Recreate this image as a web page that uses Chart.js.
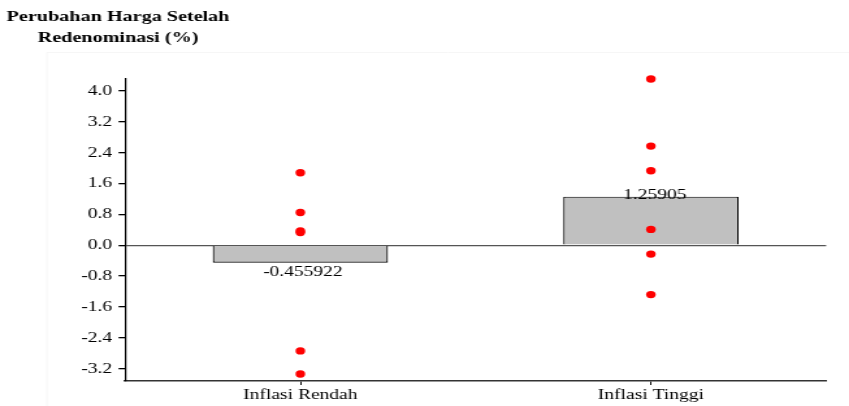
<!DOCTYPE html>
<html>
<head>
<meta charset="utf-8">
<script src="https://cdn.jsdelivr.net/npm/chart.js@4/dist/chart.umd.min.js"></script>
<style>
  html, body { margin: 0; padding: 0; background: #fff; overflow: hidden; }
  /* the reference is horizontally stretched, so draw narrow and scale it out */
  #wrap { width: 653px; height: 406px; transform: scaleX(1.3002); transform-origin: 0 0; position: relative; }
</style>
</head>
<body>
<div id="wrap"><canvas id="chart"></canvas></div>
<script>
const categories = ['Inflasi Rendah', 'Inflasi Tinggi'];
const meanValues = [-0.455922, 1.25905];
const rendahValues = [1.88, 0.85, 0.37, 0.33, -2.74, -3.34];
const tinggiValues = [4.31, 2.57, 1.93, 0.41, -0.23, -1.28];
const yTicks = [-3.2, -2.4, -1.6, -0.8, 0, 0.8, 1.6, 2.4, 3.2, 4.0];
const titleLines = ['Perubahan Harga Setelah', 'Redenominasi (%)'];

const serif = '"Liberation Serif", "Times New Roman", serif';

const points = [];
rendahValues.forEach(v => points.push({ x: categories[0], y: v }));
tinggiValues.forEach(v => points.push({ x: categories[1], y: v }));

// title + faint outer box
const titlePlugin = {
  id: 'titleText',
  beforeDraw(chart) {
    const c = chart.ctx;
    c.save();
    c.strokeStyle = '#f6f6f6';
    c.lineWidth = 1;
    c.beginPath();
    c.moveTo(36, chart.height);
    c.lineTo(36, 52.5);
    c.lineTo(chart.width, 52.5);
    c.stroke();
    c.fillStyle = '#000';
    c.font = 'bold 15.5px ' + serif;
    c.textAlign = 'center';
    c.textBaseline = 'alphabetic';
    c.fillText(titleLines[0], 90.8, 21);
    c.fillText(titleLines[1], 90.8, 42);
    c.restore();
  }
};

// value labels on the bars
const barLabels = {
  id: 'barLabels',
  afterDatasetsDraw(chart) {
    const meta = chart.getDatasetMeta(1);
    const c = chart.ctx;
    c.save();
    c.fillStyle = '#000';
    c.font = '15px ' + serif;
    c.textAlign = 'center';
    c.textBaseline = 'alphabetic';
    meta.data.forEach((el, i) => {
      const v = meanValues[i];
      const txt = v.toPrecision(6);
      if (v >= 0) c.fillText(txt, el.x + 3, el.y + 2);
      else c.fillText(txt, el.x + 2, el.y + 13);
    });
    c.restore();
  }
};

new Chart(document.getElementById('chart'), {
  type: 'bar',
  data: {
    labels: categories,
    datasets: [{
      type: 'line',
      data: points,
      showLine: false,
      pointRadius: 3.7,
      pointHoverRadius: 3.7,
      pointBackgroundColor: '#ff0000',
      pointBorderWidth: 0,
      borderColor: '#ff0000',
      clip: false,
      order: 1
    }, {
      data: meanValues,
      backgroundColor: '#c0c0c0',
      borderColor: '#000',
      borderWidth: 1.2,
      barPercentage: 0.5,
      categoryPercentage: 1,
      order: 2
    }]
  },
  options: {
    responsive: true,
    maintainAspectRatio: false,
    devicePixelRatio: 1,
    animation: false,
    layout: { padding: { top: 79, right: 17.6, left: 0, bottom: 0 } },
    plugins: {
      legend: { display: false },
      tooltip: { enabled: false },
      title: { display: false }
    },
    scales: {
      x: {
        offset: true,
        grid: {
          offset: false,
          drawOnChartArea: false,
          color: '#000',
          tickColor: '#000',
          tickLength: 4
        },
        border: { display: true, color: '#333', width: 1.5 },
        ticks: { color: '#000', font: { family: serif, size: 15 }, padding: 1 },
        afterFit(axis) { axis.height = 25; }
      },
      y: {
        min: -3.52,
        max: 4.31,
        afterBuildTicks(axis) { axis.ticks = yTicks.map(v => ({ value: v })); },
        grid: {
          color: ctx => (ctx.tick && ctx.tick.value === 0) ? '#555' : 'rgba(0,0,0,0)',
          lineWidth: 1.3,
          tickColor: '#000',
          tickLength: 5
        },
        border: { display: true, color: '#000', width: 1.2 },
        ticks: {
          color: '#000',
          font: { family: serif, size: 15 },
          padding: 5,
          callback: v => Number(v).toFixed(1)
        },
        afterFit(axis) { axis.width = 96.2; }
      }
    }
  },
  plugins: [titlePlugin, barLabels]
});
</script>
</body>
</html>
